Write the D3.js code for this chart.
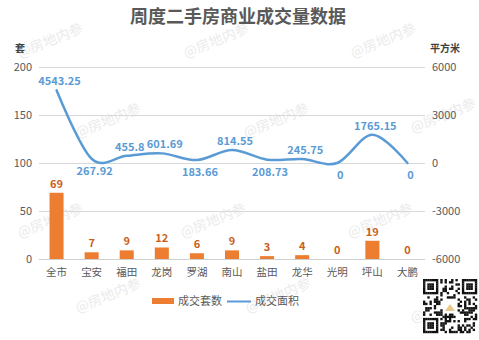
<!DOCTYPE html>
<html><head><meta charset="utf-8">
<script src="https://cdn.jsdelivr.net/npm/d3@7"></script>
<style>
html,body{margin:0;padding:0;background:#fff;}
text{font-family:"Noto Sans CJK SC","Noto Sans",sans-serif;}
</style></head>
<body><svg id="c" width="479" height="340"></svg>
<script>
const categories = ["全市","宝安","福田","龙岗","罗湖","南山","盐田","龙华","光明","坪山","大鹏"];
const units = [69,7,9,12,6,9,3,4,0,19,0];
const area = [4543.25,267.92,455.8,601.69,183.66,814.55,208.73,245.75,0,1765.15,0];
const leftTicks = [0,50,100,150,200];
const rightTicks = [-6000,-3000,0,3000,6000];
const labelBelow = [false,true,false,false,true,false,true,false,true,false,true];

const svg = d3.select("#c");
const W = 479, H = 340;
const x0 = 39, x1 = 425, yTop = 67, yBot = 259;
const barColor = "#ed7d31", lineColor = "#5b9bd5";

svg.append("rect").attr("width",W).attr("height",H).attr("fill","#fff");

// watermarks
const wm = svg.append("g");
[[52,45],[218,45],[385,45],[110,125],[278,125],[445,120],[52,225],[215,225],[382,225],[110,300],[280,300],[445,310]].forEach(p=>{
  wm.append("text").attr("transform",`translate(${p[0]},${p[1]}) rotate(-22)`)
    .attr("text-anchor","middle").attr("font-size",14).attr("fill","#ebebeb").text("@房地内参");
});

const x = d3.scalePoint().domain(categories).range([x0,x1]).padding(0.5);
const yL = d3.scaleLinear().domain([0,200]).range([yBot,yTop]);
const yR = d3.scaleLinear().domain([-6000,6000]).range([yBot,yTop]);

// gridlines
svg.append("g").selectAll("line").data(leftTicks).join("line")
  .attr("x1",x0).attr("x2",x1).attr("y1",d=>yL(d)+0.5).attr("y2",d=>yL(d)+0.5)
  .attr("stroke",d=>d===0?"#d0d0d0":"#d9d9d9").attr("stroke-width",1);

// axes
const axL = svg.append("g").attr("transform",`translate(${x0},0)`)
  .call(d3.axisLeft(yL).tickValues(leftTicks).tickSize(0).tickPadding(7).tickFormat(d=>String(d)));
const axR = svg.append("g").attr("transform",`translate(${x1},0)`)
  .call(d3.axisRight(yR).tickValues(rightTicks).tickSize(0).tickPadding(7).tickFormat(d=>String(d)));
[axL,axR].forEach(a=>{
  a.select(".domain").remove();
  a.selectAll("text").attr("font-size",11).attr("fill","#595959")
    .style("font-family",'"Noto Sans CJK SC","Noto Sans",sans-serif');
});

// bars
const bw = x.step()*0.4;
svg.append("g").selectAll("rect").data(units).join("rect")
  .attr("x",(d,i)=>x(categories[i])-bw/2).attr("width",bw)
  .attr("y",d=>yL(d)).attr("height",d=>yBot-yL(d)).attr("fill",barColor);
svg.append("g").selectAll("text").data(units).join("text")
  .attr("x",(d,i)=>x(categories[i])).attr("y",d=>yL(d)-5)
  .attr("text-anchor","middle").attr("font-size",11).attr("font-weight","bold")
  .attr("fill","#c95f1b").text(d=>d);

// line
const line = d3.line().x((d,i)=>x(categories[i])).y(d=>yR(d)).curve(d3.curveCatmullRom.alpha(0));
svg.append("path").datum(area).attr("d",line).attr("fill","none")
  .attr("stroke",lineColor).attr("stroke-width",2.5).attr("stroke-linecap","round");
svg.append("g").selectAll("text").data(area).join("text")
  .attr("x",(d,i)=>x(categories[i])+3)
  .attr("y",(d,i)=>labelBelow[i]?yR(d)+16:yR(d)-5)
  .attr("text-anchor","middle").attr("font-size",11).attr("font-weight","bold")
  .attr("fill",lineColor).text(d=>d);

// category labels
svg.append("g").selectAll("text").data(categories).join("text")
  .attr("x",d=>x(d)).attr("y",276).attr("text-anchor","middle")
  .attr("font-size",10.5).attr("fill","#595959").text(d=>d);

// title and units
svg.append("text").attr("x",238).attr("y",23).attr("text-anchor","middle")
  .attr("font-size",18).attr("font-weight","bold").attr("fill","#595959").text("周度二手房商业成交量数据");
svg.append("text").attr("x",15).attr("y",52).attr("font-size",10).attr("font-weight","bold").attr("fill","#404040").text("套");
svg.append("text").attr("x",430).attr("y",52).attr("font-size",10).attr("font-weight","bold").attr("fill","#404040").text("平方米");

// legend
const lg = svg.append("g");
lg.append("rect").attr("x",152).attr("y",298).attr("width",22).attr("height",6).attr("fill",barColor);
lg.append("text").attr("x",178).attr("y",305).attr("font-size",11).attr("fill","#595959").text("成交套数");
lg.append("line").attr("x1",227).attr("x2",251).attr("y1",301.5).attr("y2",301.5).attr("stroke",lineColor).attr("stroke-width",2);
lg.append("text").attr("x",255).attr("y",305).attr("font-size",11).attr("fill","#595959").text("成交面积");

// QR code decoration
const qr = svg.append("g").attr("transform","translate(423,279)");
const N = 25, cs = 54/N;
qr.append("rect").attr("width",54).attr("height",54).attr("fill","#fff");
function finder(r,c){return (r<7&&c<7)||(r<7&&c>=N-7)||(r>=N-7&&c<7);}
for(let r=0;r<N;r++)for(let c=0;c<N;c++){
  let on;
  if(finder(r,c)){
    const rr = r<7?r:r-(N-7), cc = c<7?c:c-(N-7);
    on = (rr===0||rr===6||cc===0||cc===6)||(rr>=2&&rr<=4&&cc>=2&&cc<=4);
  } else if((r===7&&(c<8||c>=N-8))||(c===7&&(r<8||r>=N-8))||(r===N-8&&c<8)||(c===N-8&&r<8)) on=false;
  else if(r>=9&&r<=15&&c>=9&&c<=15) on=false;
  else on = (((r*31+c*17)^(r*c))%5)<2;
  if(on) qr.append("rect").attr("x",c*cs).attr("y",r*cs).attr("width",cs+0.2).attr("height",cs+0.2).attr("fill","#111");
}
qr.append("path").attr("d","M22,32 L27,25 L32,32 Z").attr("fill","#e8c98a");
</script></body></html>
